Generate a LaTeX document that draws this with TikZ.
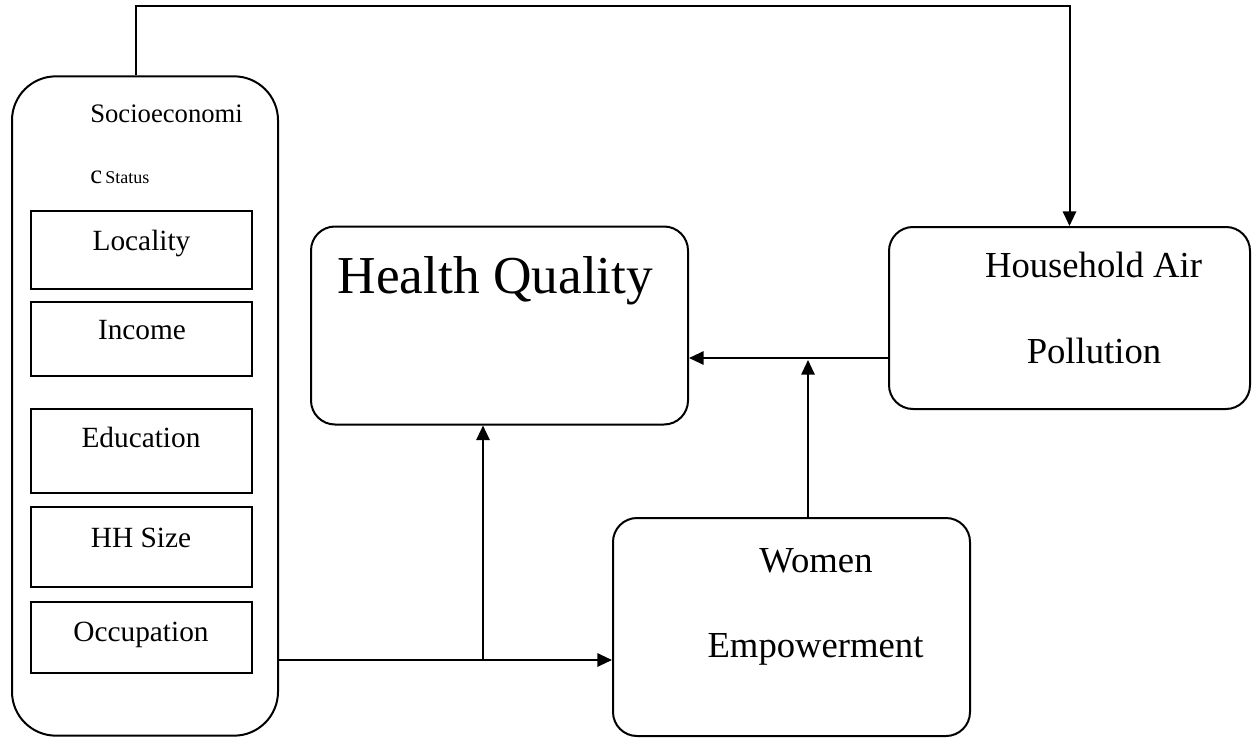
\documentclass[tikz,border=0pt]{standalone}
\usepackage{fontspec}
\setmainfont{Liberation Serif}
\usetikzlibrary{arrows.meta, calc}

\begin{document}
\begin{tikzpicture}[
    x=0.75pt, y=-0.75pt,
    outer/.style={draw, line width=1.5pt, rounded corners=33pt, inner sep=0pt},
    frame/.style={draw, line width=1.5pt, rounded corners=18pt, inner sep=0pt},
    item/.style={draw, line width=1.5pt, inner sep=0pt, minimum width=166pt},
    lbl/.style={anchor=base, inner sep=0pt},
    arr/.style={-{Triangle[length=11pt, width=10pt]}, line width=1.5pt}
]
\useasboundingbox (0,0) rectangle (1256,738);

% socioeconomic status and its parts
\node[outer, minimum width=199.5pt, minimum height=494.5pt] (ses) at (145,406) {};
\node[item, minimum height=58.5pt] (loc) at (141.5,250) {};
\node[item, minimum height=55.5pt] (inc) at (141.5,339) {};
\node[item, minimum height=63pt] (edu) at (141.5,451) {};
\node[item, minimum height=60pt] (hhs) at (141.5,547) {};
\node[item, minimum height=53.25pt] (occ) at (141.5,637.5) {};

\node[lbl, anchor=base west, font=\fontsize{20}{24}\selectfont] (sest1) at (90,123) {Socioeconomi};
\node[lbl, anchor=base west] (sest2) at (90,184) {{\fontsize{20}{24}\selectfont c} {\fontsize{13.5}{16}\selectfont Status}};
\node[lbl, font=\fontsize{22}{26}\selectfont] (loct) at (141.5,250) {Locality};
\node[lbl, font=\fontsize{22}{26}\selectfont] (inct) at (142,339) {Income};
\node[lbl, font=\fontsize{22}{26}\selectfont] (edut) at (141,447) {Education};
\node[lbl, font=\fontsize{22}{26}\selectfont] (hhst) at (141,547) {HH Size};
\node[lbl, font=\fontsize{22}{26}\selectfont] (occt) at (141,641) {Occupation};

% outcome boxes
\node[frame, minimum width=282.75pt, minimum height=148.5pt] (hq) at (499.5,325.5) {};
\node[frame, minimum width=270.75pt, minimum height=136.5pt] (hap) at (1069.5,318) {};
\node[frame, minimum width=267.75pt, minimum height=163.5pt] (we) at (791.5,627) {};

\node[lbl, font=\fontsize{40}{48}\selectfont] (hqt) at (495.5,293) {Health Quality};
\node[lbl, font=\fontsize{27.5}{33}\selectfont] (hapt1) at (1093.5,277) {Household Air};
\node[lbl, font=\fontsize{27.5}{33}\selectfont] (hapt2) at (1094,363) {Pollution};
\node[lbl, font=\fontsize{27.5}{33}\selectfont] (wet1) at (816,572) {Women};
\node[lbl, font=\fontsize{27.5}{33}\selectfont] (wet2) at (815.5,657) {Empowerment};

% connectors
\coordinate (top) at (136,6);
\coordinate (split) at (483,660);
\coordinate (meet) at (808,358);

\draw[arr] (top |- ses.north) -- (top) -| (hap.north);
\draw[arr] (ses.east |- split) -- (we.west |- split);
\draw[arr] (split) -- (split |- hq.south);
\draw[arr] (hap.west |- meet) -- (hq.east |- meet);
\draw[arr] (we.north -| meet) -- ($(meet)+(0,2)$);
\end{tikzpicture}
\end{document}
